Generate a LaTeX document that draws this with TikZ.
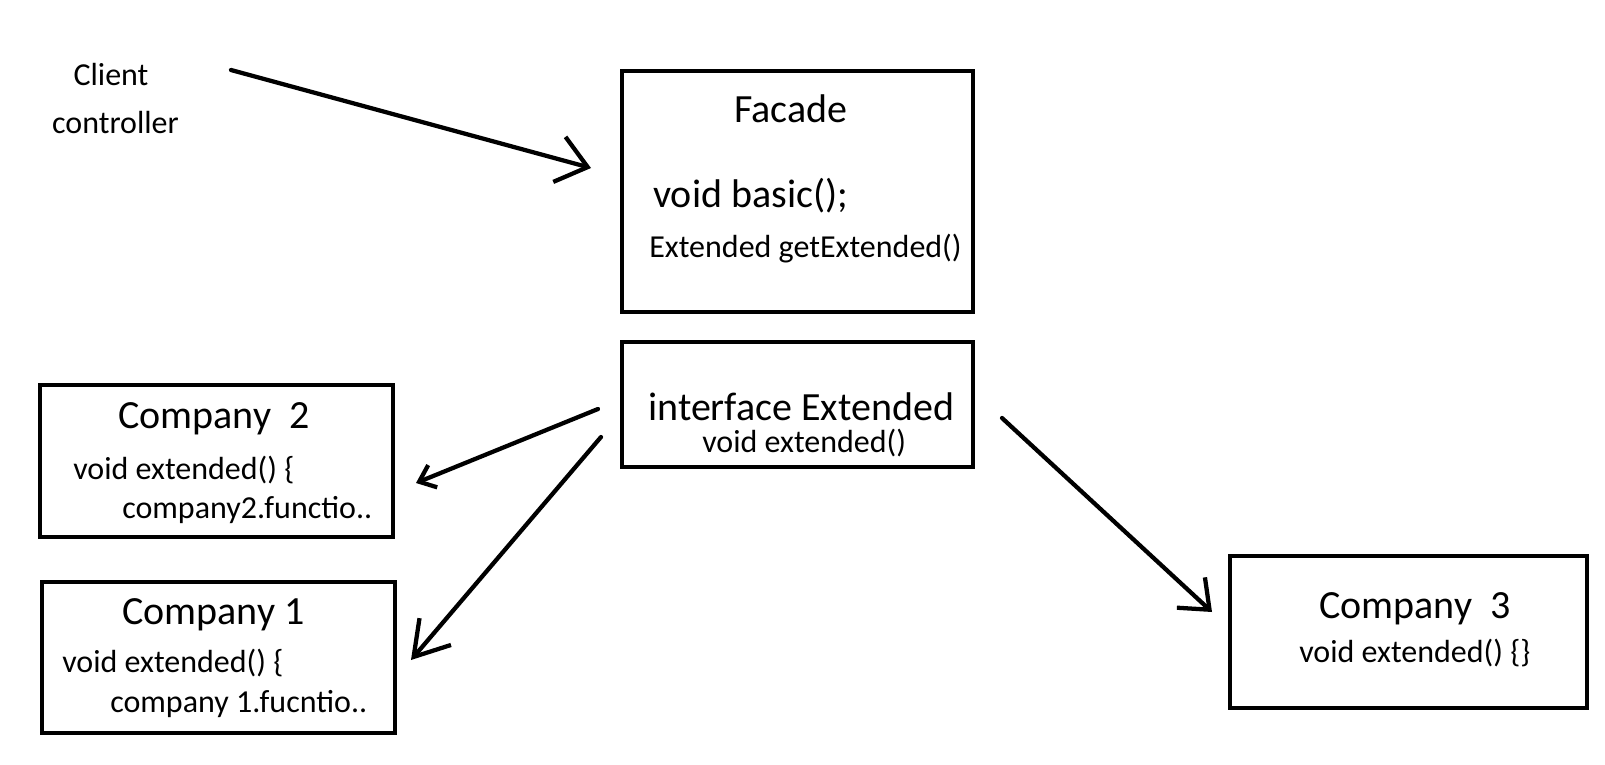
\documentclass[tikz,border=0pt]{standalone}
\usepackage{fontspec}
\setmainfont{Carlito}
\usetikzlibrary{arrows.meta,fit}

\tikzset{
  box/.style={draw, line width=3pt, inner sep=0pt},
  big/.style={inner sep=0pt, anchor=base west, font=\fontsize{30}{36}\selectfont},
  small/.style={inner sep=0pt, anchor=base west, font=\fontsize{24}{29}\selectfont},
  handarrow/.style 2 args={line width=3.2pt, line cap=round, -{Straight Barb[length=#1, width=#2]}}
}

\begin{document}
\begin{tikzpicture}[x=0.75pt, y=-0.75pt]
  \useasboundingbox (0,0) rectangle (1605,764);

  % Client
  \node[small, anchor=base] (client) at (111,85) {Client};
  \node[small, anchor=base] (ctrl) at (115.5,133) {controller};

  % Facade
  \node[box, fit={(622,71) (973,312)}] (facade) {};
  \node[big, anchor=base] (facadename) at (791,122) {Facade};
  \node[big] (basic) at (653,207) {void basic();};
  \node[small] (getext) at (649,257) {Extended getExtended()};

  % Interface
  \node[box, fit={(622,342) (973,467)}] (iface) {};
  \node[big] (ifacename) at (648,420) {interface Extended};
  \node[small] (ifacemeth) at (702,452) {void extended()};

  % Companies
  \node[box, fit={(40,385) (393,537)}] (comp2) {};
  \node[big] (comp2name) at (118,428) {Company\ \ 2};
  \node[small] (comp2meth) at (73,479) {void extended() \{};
  \node[small] (comp2body) at (122,518) {company2.functio..};

  \node[box, fit={(42,582) (395,733)}] (comp1) {};
  \node[big] (comp1name) at (122,624) {Company 1};
  \node[small] (comp1meth) at (62,672) {void extended() \{};
  \node[small] (comp1body) at (110,712) {company 1.fucntio..};

  \node[box, fit={(1230,556) (1587,708)}] (comp3) {};
  \node[big] (comp3name) at (1319,618) {Company\ \ 3};
  \node[small] (comp3meth) at (1299,662) {void extended() \{\}};

  % Arrows
  \coordinate (clout) at (231,70);
  \coordinate (facadein) at (591,168);
  \coordinate (ifaceout2) at (598,409);
  \coordinate (comp2in) at (416,483);
  \coordinate (ifaceout1) at (601,437);
  \coordinate (comp1in) at (411,660);
  \coordinate (ifaceout3) at (1002,418);
  \coordinate (comp3in) at (1212,612);

  \draw[handarrow={22pt}{35pt}] (clout) -- (facadein);
  \draw[handarrow={11pt}{18pt}] (ifaceout2) -- (comp2in);
  \draw[handarrow={25pt}{31pt}] (ifaceout1) -- (comp1in);
  \draw[handarrow={19pt}{31pt}] (ifaceout3) -- (comp3in);
\end{tikzpicture}
\end{document}
